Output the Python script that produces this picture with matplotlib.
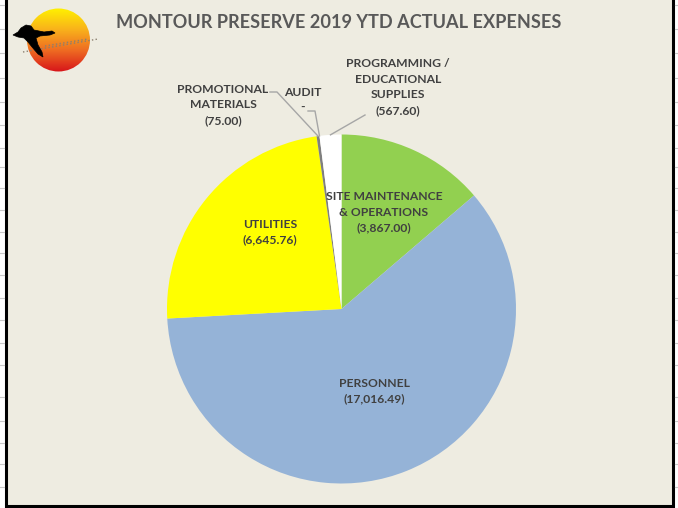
# Montour Preserve 2019 YTD actual expenses pie, redrawn in matplotlib.

import numpy as np
import matplotlib
matplotlib.use("Agg")
import matplotlib.pyplot as plt
from matplotlib.patches import Circle, Polygon, Rectangle

labels = ["SITE MAINTENANCE\n& OPERATIONS", "PERSONNEL", "UTILITIES",
          "PROMOTIONAL\nMATERIALS", "AUDIT", "PROGRAMMING /\nEDUCATIONAL\nSUPPLIES"]
values = [3867.00, 17016.49, 6645.76, 75.00, 0.00, 567.60]
colors = ["#92D050", "#95B3D7", "#FFFF00", "#7F7F7F", "#7F7F7F", "#FFFFFF"]

# label centres in picture pixels (x, y from top)
label_pos = [(384, 212), (374, 391), (270, 232), (223, 105), (303, 100), (398, 87)]
# where leader lines leave the outside labels (None = label inside slice)
leader_start = [None, None, None, (270, 92), (308, 111), (365, 115)]
leader_knee = [None, None, None, (277, 92), (315, 111), None]

W, H = 678, 508
bg = "#EEECE1"
txt = "#404040"
fam = ["Lato", "DejaVu Sans"]

def Y(y):
    return H - y

fig = plt.figure(figsize=(W / 100, H / 100), dpi=100)
fig.patch.set_facecolor("white")
ax = fig.add_axes([0, 0, 1, 1])

# chart area + spreadsheet row lines peeking out at the sides
ax.add_patch(Rectangle((5.5, Y(506)), 667.5, 520, facecolor=bg, edgecolor="black",
                       linewidth=2.2, zorder=0))
for yy in [5, 29, 53, 78, 102, 125, 148, 167, 188, 210, 232, 253, 275, 298,
           320, 343, 365, 397, 421, 443, 464, 487]:
    ax.plot([0, 4], [Y(yy), Y(yy)], color="#C8C8C8", lw=0.8, zorder=0)
    ax.plot([674.5, 678], [Y(yy), Y(yy)], color="#C8C8C8", lw=0.8, zorder=0)

# pie
cx, cy, r = 341.5, Y(309), 174.5
wedges, _ = ax.pie(values, colors=colors, startangle=90, counterclock=False,
                   center=(cx, cy), radius=r, wedgeprops=dict(linewidth=0))

for i, (lab, v) in enumerate(zip(labels, values)):
    amt = "-" if v == 0 else "({:,.2f})".format(v)
    x, y = label_pos[i]
    ax.text(x, Y(y), lab + "\n" + amt, ha="center", va="center", multialignment="center",
            fontsize=8.7, fontweight="bold", color=txt, family=fam, linespacing=1.5, zorder=5)
    if leader_start[i] is not None:
        w = wedges[i]
        ang = np.deg2rad((w.theta1 + w.theta2) / 2)
        ex, ey = cx + r * np.cos(ang), cy + r * np.sin(ang)
        pts = [leader_start[i]]
        if leader_knee[i] is not None:
            pts.append(leader_knee[i])
        xs = [p[0] for p in pts] + [ex]
        ys = [Y(p[1]) for p in pts] + [ey]
        ax.plot(xs, ys, color="#A6A6A6", lw=1.0, zorder=4)

ax.text(339, Y(23), "MONTOUR PRESERVE 2019 YTD ACTUAL EXPENSES", ha="center", va="center",
        fontsize=13.1, fontweight="bold", color="#595959", family=fam)

# logo: sunset disc with a goose
sun = Circle((58.5, Y(40)), 31.5, transform=ax.transData)
grad = np.linspace(0, 1, 256).reshape(-1, 1)
cmap = matplotlib.colors.LinearSegmentedColormap.from_list(
    "sun", ["#FFF200", "#F9B21B", "#EE6A22", "#D7141A"])
im = ax.imshow(grad, cmap=cmap, extent=(27, 90, Y(72), Y(8)), origin="upper",
               aspect="auto", zorder=2)
im.set_clip_path(sun)
ax.plot([23, 98], [Y(52), Y(39)], color="#8A7F70", lw=1.0, ls=":", zorder=3)
ax.plot([45, 88], [Y(46), Y(39)], color="#8A7F70", lw=1.0, ls=":", zorder=3)
bird = [(13, 35), (18, 32), (21, 28), (26, 25), (31, 26), (34, 30), (44, 32), (52, 31),
        (55, 33), (50, 35), (40, 36), (36, 38), (38, 45), (42, 52), (43, 57), (38, 54),
        (32, 47), (28, 42), (24, 38), (18, 37)]
ax.add_patch(Polygon([(px, Y(py)) for px, py in bird], closed=True, facecolor="black",
                     edgecolor="black", lw=0.5, zorder=3))

ax.set_xlim(0, W)
ax.set_ylim(0, H)
ax.set_aspect("equal")
ax.axis("off")

fig.savefig("out.png", dpi=100, facecolor=fig.get_facecolor())
